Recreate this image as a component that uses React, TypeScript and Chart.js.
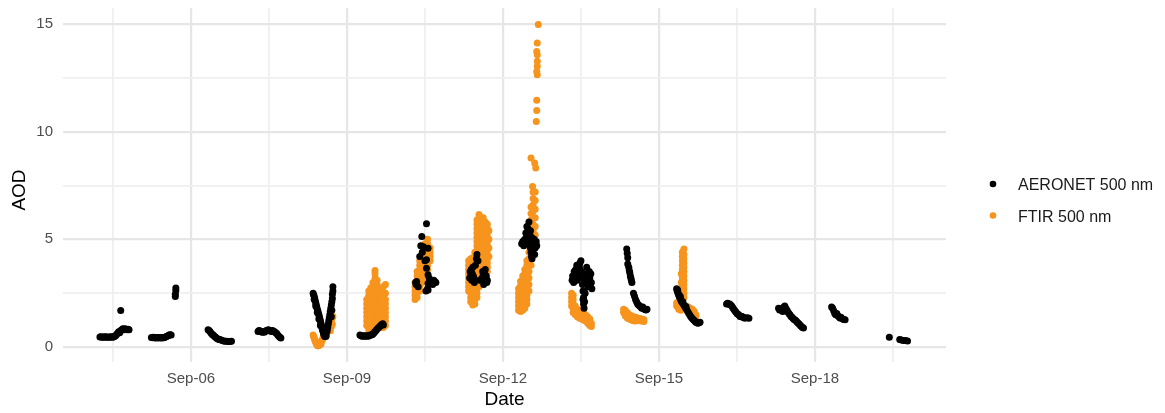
import React, { useEffect, useRef } from 'react';
import { Chart, registerables } from 'chart.js';

Chart.register(...registerables);

// ---- axis ticks ----
const xTickValues = [4.5, 6, 7.5, 9, 10.5, 12, 13.5, 15, 16.5, 18, 19.5];
const xTickLabels = ['', 'Sep-06', '', 'Sep-09', '', 'Sep-12', '', 'Sep-15', '', 'Sep-18', ''];
const yTickValues = [0, 2.5, 5, 7.5, 10, 12.5, 15];
const yTickLabels = ['0', '', '5', '', '10', '', '15'];

const seriesNames = ['AERONET 500 nm', 'FTIR 500 nm'];
const seriesColors = ['#000000', '#F7941D'];

// ---- AERONET 500 nm: [day of September, AOD] ----
const aeronetPoints: [number, number][] = [
  // Sep 4
  [4.25, 0.46], [4.27, 0.47], [4.29, 0.45], [4.31, 0.46], [4.33, 0.45], [4.35, 0.47], [4.37, 0.46], [4.39, 0.45],
  [4.41, 0.46], [4.43, 0.45], [4.45, 0.46], [4.47, 0.47], [4.49, 0.45], [4.51, 0.46], [4.53, 0.48], [4.55, 0.52],
  [4.57, 0.58], [4.59, 0.64], [4.61, 0.70], [4.63, 0.66], [4.65, 0.76], [4.67, 0.80], [4.69, 0.84], [4.71, 0.80],
  [4.73, 0.84], [4.75, 0.82], [4.77, 0.80], [4.79, 0.82], [4.81, 0.80], [4.65, 1.69],
  // Sep 5
  [5.24, 0.44], [5.26, 0.43], [5.28, 0.45], [5.30, 0.43], [5.32, 0.42], [5.34, 0.44], [5.36, 0.43], [5.38, 0.42],
  [5.40, 0.44], [5.42, 0.43], [5.44, 0.42], [5.46, 0.44], [5.48, 0.43], [5.50, 0.45], [5.52, 0.47], [5.54, 0.50],
  [5.56, 0.52], [5.58, 0.55], [5.60, 0.57], [5.62, 0.56], [5.70, 2.34], [5.70, 2.45], [5.71, 2.62], [5.71, 2.74],
  // Sep 6
  [6.33, 0.80], [6.35, 0.76], [6.37, 0.70], [6.39, 0.64], [6.41, 0.58], [6.43, 0.55], [6.45, 0.50], [6.47, 0.46],
  [6.49, 0.42], [6.51, 0.38], [6.53, 0.36], [6.55, 0.35], [6.57, 0.33], [6.60, 0.30], [6.63, 0.28], [6.66, 0.27],
  [6.69, 0.26], [6.72, 0.25], [6.75, 0.25], [6.78, 0.27],
  // Sep 7
  [7.29, 0.72], [7.31, 0.76], [7.33, 0.74], [7.35, 0.70], [7.37, 0.68], [7.39, 0.70], [7.41, 0.68], [7.43, 0.72],
  [7.45, 0.76], [7.47, 0.78], [7.49, 0.80], [7.51, 0.76], [7.53, 0.74], [7.55, 0.72], [7.57, 0.76], [7.59, 0.72],
  [7.61, 0.70], [7.63, 0.66], [7.65, 0.62], [7.67, 0.56], [7.69, 0.50], [7.71, 0.45], [7.73, 0.42],
  // Sep 8
  [8.35, 2.50], [8.36, 2.42], [8.37, 2.35], [8.37, 2.20], [8.38, 2.25], [8.39, 2.15], [8.40, 2.05], [8.40, 1.90],
  [8.41, 1.95], [8.42, 1.85], [8.43, 1.75], [8.43, 1.60], [8.44, 1.68], [8.45, 1.58], [8.46, 1.50], [8.46, 1.30],
  [8.47, 1.40], [8.48, 1.30], [8.49, 1.20], [8.49, 1.00], [8.50, 1.10], [8.51, 1.00], [8.52, 0.90], [8.53, 0.80],
  [8.54, 0.72], [8.55, 0.62], [8.56, 0.55], [8.57, 0.50], [8.58, 0.48], [8.60, 0.50], [8.60, 0.60], [8.62, 0.75],
  [8.63, 0.90], [8.64, 1.05], [8.65, 1.20], [8.66, 1.35], [8.67, 1.50], [8.68, 1.65], [8.69, 1.80], [8.70, 1.40],
  [8.70, 1.95], [8.71, 1.70], [8.71, 2.10], [8.72, 2.25], [8.72, 2.45], [8.73, 2.60], [8.73, 2.80],
  // Sep 9
  [9.25, 0.55], [9.27, 0.52], [9.29, 0.50], [9.31, 0.52], [9.33, 0.50], [9.35, 0.52], [9.37, 0.50], [9.39, 0.52],
  [9.41, 0.50], [9.43, 0.53], [9.45, 0.55], [9.47, 0.56], [9.49, 0.58], [9.51, 0.62], [9.53, 0.68], [9.55, 0.74],
  [9.57, 0.80], [9.59, 0.86], [9.61, 0.90], [9.63, 0.95], [9.65, 1.00], [9.67, 1.05], [9.69, 1.08], [9.70, 1.02],
  // Sep 10
  [10.32, 3.00], [10.33, 2.90], [10.34, 3.04], [10.37, 2.80], [10.40, 4.20], [10.42, 4.70], [10.44, 5.13],
  [10.45, 4.40], [10.47, 4.66], [10.50, 4.00], [10.52, 2.60], [10.53, 5.72], [10.53, 4.05], [10.53, 3.66],
  [10.55, 2.70], [10.56, 4.59], [10.56, 3.35], [10.56, 2.96], [10.56, 2.65], [10.58, 3.20], [10.60, 3.10],
  [10.65, 2.90], [10.67, 3.10], [10.69, 3.04], [10.71, 3.00],
  // Sep 11
  [11.36, 3.20], [11.37, 3.50], [11.38, 3.30], [11.39, 3.60], [11.40, 3.10], [11.41, 3.40], [11.42, 3.70],
  [11.43, 3.30], [11.44, 3.20], [11.45, 3.00], [11.47, 3.80], [11.49, 4.10], [11.50, 4.30], [11.52, 4.00],
  [11.55, 3.10], [11.60, 3.20], [11.61, 3.50], [11.62, 3.30], [11.63, 2.90], [11.64, 3.00], [11.65, 3.40],
  [11.66, 3.60], [11.67, 3.20], [11.68, 3.30], [11.69, 3.00], [11.70, 3.10],
  // Sep 12
  [12.36, 4.80], [12.38, 4.90], [12.40, 4.70], [12.42, 5.00], [12.44, 5.30], [12.46, 5.60], [12.47, 5.00],
  [12.48, 5.50], [12.49, 4.80], [12.50, 5.80], [12.51, 5.20], [12.52, 4.90], [12.53, 4.60], [12.53, 5.40],
  [12.54, 4.40], [12.55, 4.20], [12.55, 5.10], [12.56, 4.10], [12.57, 4.50], [12.57, 4.30], [12.58, 4.80],
  [12.59, 4.70], [12.60, 5.00], [12.61, 4.30], [12.62, 4.60], [12.63, 4.80], [12.64, 4.90], [12.65, 4.70],
  // Sep 13
  [13.33, 3.10], [13.34, 3.30], [13.36, 3.00], [13.37, 3.50], [13.38, 3.20], [13.40, 3.60], [13.41, 3.40],
  [13.42, 3.80], [13.43, 3.10], [13.44, 3.60], [13.46, 3.30], [13.47, 3.70], [13.48, 3.90], [13.50, 4.00],
  [13.51, 3.50], [13.52, 3.20], [13.53, 2.90], [13.54, 2.60], [13.54, 2.20], [13.55, 2.30], [13.55, 2.00],
  [13.56, 1.80], [13.56, 2.60], [13.57, 2.10], [13.58, 2.50], [13.59, 3.00], [13.60, 3.40], [13.61, 3.70],
  [13.62, 3.30], [13.63, 3.00], [13.64, 2.80], [13.65, 3.10], [13.66, 3.50], [13.67, 3.20], [13.68, 2.90],
  [13.69, 3.40], [13.70, 3.00], [13.71, 2.70],
  // Sep 14
  [14.38, 4.55], [14.39, 4.35], [14.40, 4.15], [14.40, 3.85], [14.42, 3.70], [14.43, 3.55], [14.44, 3.45],
  [14.45, 3.30], [14.46, 3.20], [14.47, 3.10], [14.48, 3.00], [14.51, 2.50], [14.53, 2.35], [14.55, 2.20],
  [14.57, 2.10], [14.59, 2.00], [14.61, 1.95], [14.63, 1.90], [14.65, 1.85], [14.67, 1.80], [14.69, 1.85],
  [14.71, 1.78], [14.73, 1.74], [14.75, 1.72], [14.77, 1.75],
  // Sep 15
  [15.34, 2.70], [15.35, 2.62], [15.36, 2.55], [15.36, 2.65], [15.37, 2.48], [15.38, 2.42], [15.39, 2.35],
  [15.40, 2.28], [15.41, 2.35], [15.42, 2.20], [15.43, 2.12], [15.45, 2.05], [15.46, 2.10], [15.47, 1.98],
  [15.49, 1.90], [15.51, 1.82], [15.52, 1.88], [15.53, 1.75], [15.55, 1.66], [15.57, 1.58], [15.59, 1.50],
  [15.61, 1.42], [15.63, 1.36], [15.65, 1.30], [15.67, 1.25], [15.69, 1.20], [15.71, 1.15], [15.73, 1.12],
  [15.75, 1.10], [15.77, 1.12], [15.79, 1.15],
  // Sep 16
  [16.30, 2.00], [16.32, 2.03], [16.34, 1.98], [16.36, 2.00], [16.38, 1.95], [16.40, 1.90], [16.42, 1.82],
  [16.44, 1.75], [16.46, 1.68], [16.48, 1.62], [16.50, 1.55], [16.52, 1.52], [16.54, 1.48], [16.56, 1.42],
  [16.58, 1.40], [16.60, 1.42], [16.62, 1.38], [16.64, 1.35], [16.66, 1.34], [16.70, 1.36], [16.73, 1.33],
  // Sep 17
  [17.30, 1.80], [17.32, 1.72], [17.34, 1.78], [17.36, 1.70], [17.38, 1.65], [17.40, 1.85], [17.42, 1.90],
  [17.44, 1.80], [17.46, 1.72], [17.48, 1.62], [17.50, 1.55], [17.52, 1.50], [17.54, 1.42], [17.56, 1.38],
  [17.58, 1.32], [17.60, 1.28], [17.62, 1.25], [17.64, 1.20], [17.66, 1.15], [17.68, 1.10], [17.70, 1.05],
  [17.72, 1.00], [17.74, 0.95], [17.76, 0.90], [17.78, 0.88],
  // Sep 18
  [18.32, 1.85], [18.34, 1.80], [18.36, 1.68], [18.38, 1.55], [18.40, 1.50], [18.42, 1.55], [18.44, 1.45],
  [18.46, 1.40], [18.48, 1.35], [18.50, 1.38], [18.52, 1.32], [18.55, 1.28], [18.58, 1.26],
  // Sep 19
  [19.43, 0.45], [19.63, 0.35], [19.66, 0.32], [19.70, 0.30], [19.74, 0.30], [19.78, 0.28],
];

// ---- FTIR 500 nm: [day of September, AOD values observed at that time] ----
const ftirColumns: [number, number[]][] = [
  // Sep 8
  [8.35, [0.55]], [8.36, [0.48]], [8.37, [0.42]], [8.38, [0.35]], [8.39, [0.28]], [8.40, [0.22]], [8.41, [0.16]],
  [8.42, [0.12]], [8.43, [0.08]], [8.44, [0.06, 0.15]], [8.45, [0.05]], [8.46, [0.08]], [8.47, [0.10, 0.20]],
  [8.48, [0.14]], [8.49, [0.18]], [8.50, [0.12, 0.22]], [8.51, [0.26]], [8.52, [0.30]], [8.53, [0.35]],
  [8.54, [0.40]], [8.55, [0.44]], [8.56, [0.48]], [8.57, [0.52]], [8.58, [0.56]], [8.60, [0.62]], [8.62, [0.70]],
  [8.64, [0.80]], [8.66, [0.90]], [8.67, [1.00]], [8.68, [0.75, 1.10]], [8.69, [1.18]], [8.70, [0.95, 1.25]],
  [8.71, [1.32]], [8.72, [1.05, 1.38]], [8.73, [1.42]],
  // Sep 9
  [9.38, [1.0, 1.2, 1.4, 1.6, 1.8, 2.0, 2.2]],
  [9.42, [0.8, 1.0, 1.2, 1.4, 1.6, 1.8, 2.0, 2.2, 2.4, 2.6]],
  [9.46, [0.75, 0.95, 1.15, 1.35, 1.55, 1.75, 1.95, 2.15, 2.35, 2.55, 2.75]],
  [9.50, [0.8, 1.0, 1.2, 1.4, 1.6, 1.8, 2.0, 2.2, 2.4, 2.6, 2.8, 3.0]],
  [9.54, [1.0, 1.2, 1.4, 1.6, 1.8, 2.0, 2.2, 2.4, 2.6, 2.8, 3.0, 3.2, 3.4, 3.55]],
  [9.58, [1.1, 1.3, 1.5, 1.7, 1.9, 2.1, 2.3, 2.5, 2.7, 2.9, 3.1]],
  [9.62, [1.0, 1.2, 1.4, 1.6, 1.8, 2.0, 2.2, 2.4, 2.6]],
  [9.66, [0.9, 1.1, 1.3, 1.5, 1.7, 1.9, 2.1, 2.3, 2.5, 2.7]],
  [9.70, [0.9, 1.1, 1.3, 1.5, 1.7, 1.9, 2.1, 2.3, 2.5, 2.8]],
  [9.74, [1.0, 1.2, 1.4, 1.6, 1.8, 2.0, 2.2, 2.5, 2.9]],
  // Sep 10
  [10.31, [2.2, 2.4, 2.6, 2.8, 3.0]],
  [10.35, [2.3, 2.5, 2.7, 2.9, 3.1, 3.3, 3.5]],
  [10.40, [2.6, 2.8, 3.0, 3.2, 3.4, 3.6, 3.8, 4.0]],
  [10.45, [3.0, 3.2, 3.4, 3.6, 3.8, 4.0, 4.2, 4.4]],
  [10.50, [3.4, 3.6, 3.8, 4.0, 4.2, 4.4, 4.6, 4.8]],
  [10.55, [3.6, 3.8, 4.0, 4.2, 4.4, 4.6, 4.8, 5.0]],
  [10.60, [4.0, 4.2, 4.4, 4.6]],
  // Sep 11
  [11.34, [2.6, 2.8, 3.0, 3.2, 3.4, 3.6, 3.8, 4.0]],
  [11.38, [2.1, 2.3, 2.5, 2.7, 2.9, 3.1, 3.3, 3.5, 3.7, 3.9, 4.1]],
  [11.42, [1.95, 2.15, 2.35, 2.55, 2.75, 2.95, 3.15, 3.35, 3.55, 3.75, 3.95, 4.15]],
  [11.46, [2.0, 2.2, 2.4, 2.6, 2.8, 3.0, 3.2, 3.4, 3.6, 3.8, 4.0, 4.2, 4.4]],
  [11.50, [2.3, 2.5, 2.7, 2.9, 3.1, 3.3, 3.5, 3.7, 3.9, 4.1, 4.3, 4.5, 4.7, 4.9, 5.1, 5.3, 5.5, 5.7, 5.9]],
  [11.54, [2.8, 3.0, 3.2, 3.4, 3.6, 3.8, 4.0, 4.2, 4.4, 4.6, 4.8, 5.0, 5.2, 5.4, 5.6, 5.8, 6.0, 6.15]],
  [11.58, [3.0, 3.2, 3.4, 3.6, 3.8, 4.0, 4.2, 4.4, 4.6, 4.8, 5.0, 5.2, 5.4, 5.6, 5.8, 6.0]],
  [11.62, [3.2, 3.4, 3.6, 3.8, 4.0, 4.2, 4.4, 4.6, 4.8, 5.0, 5.2, 5.4, 5.6, 5.8, 6.0]],
  [11.66, [3.4, 3.6, 3.8, 4.0, 4.2, 4.4, 4.6, 4.8, 5.0, 5.2, 5.4, 5.6, 5.8]],
  [11.70, [3.5, 3.7, 3.9, 4.1, 4.3, 4.5, 4.7, 4.9, 5.1, 5.3, 5.5, 5.7]],
  [11.73, [4.2, 4.6, 5.0, 5.4]],
  // Sep 12
  [12.30, [1.7, 1.9, 2.1, 2.3, 2.5, 2.7]],
  [12.34, [1.65, 1.85, 2.05, 2.25, 2.45, 2.65, 2.85, 3.05]],
  [12.38, [1.7, 1.9, 2.1, 2.3, 2.5, 2.7, 2.9, 3.1, 3.3]],
  [12.42, [1.8, 2.0, 2.2, 2.4, 2.6, 2.8, 3.0, 3.2, 3.4, 3.6]],
  [12.46, [2.0, 2.2, 2.4, 2.6, 2.8, 3.0, 3.2, 3.4, 3.6, 3.8, 4.0]],
  [12.50, [2.6, 2.9, 3.2, 3.5, 3.8, 4.1, 4.4, 4.7, 5.0, 5.3]],
  [12.54, [3.8, 4.1, 4.4, 4.7, 5.0, 5.3, 5.6, 5.9, 6.2, 6.5, 8.78]],
  [12.57, [7.46]],
  [12.58, [4.5, 4.8, 5.1, 5.4, 5.7, 6.0, 6.3, 6.6, 6.9, 7.2]],
  [12.61, [8.55]],
  [12.62, [5.2, 5.6, 6.0, 6.4, 6.8, 7.2]],
  [12.63, [8.32]],
  [12.64, [10.48]],
  [12.65, [10.99, 11.46, 12.80, 13.73]],
  [12.66, [12.65, 13.04, 13.27, 13.58, 14.12]],
  [12.68, [14.98]],
  // Sep 13
  [13.32, [2.5, 2.3, 2.1, 1.9]],
  [13.35, [2.4, 2.2, 2.0, 1.8, 1.6]],
  [13.39, [1.9, 1.7, 1.5]],
  [13.43, [1.75, 1.55, 1.4]],
  [13.47, [1.7, 1.5, 1.35]],
  [13.51, [1.6, 1.45, 1.3]],
  [13.55, [1.55, 1.4, 1.25]],
  [13.59, [1.5, 1.35, 1.2]],
  [13.63, [1.4, 1.25, 1.1]],
  [13.67, [1.3, 1.15, 1.0]],
  [13.70, [1.1, 0.95]],
  // Sep 14
  [14.32, [1.75, 1.6]],
  [14.35, [1.7, 1.55, 1.45]],
  [14.39, [1.6, 1.45, 1.35]],
  [14.43, [1.5, 1.4, 1.3]],
  [14.47, [1.45, 1.35, 1.25]],
  [14.51, [1.4, 1.3, 1.22]],
  [14.55, [1.38, 1.28, 1.2]],
  [14.59, [1.35, 1.25]],
  [14.63, [1.32, 1.22]],
  [14.67, [1.3, 1.2]],
  [14.71, [1.28, 1.18]],
  // Sep 15
  [15.34, [2.05, 1.9]],
  [15.38, [2.0, 1.85, 1.75]],
  [15.42, [1.95, 1.8, 1.7]],
  [15.43, [2.6, 3.0, 3.4]],
  [15.45, [2.2, 2.4, 2.6, 2.8, 3.0, 3.2, 3.4, 3.6, 3.8, 4.0, 4.2, 4.4]],
  [15.48, [2.3, 2.5, 2.7, 2.9, 3.1, 3.3, 3.5, 3.7, 3.9, 4.1, 4.3, 4.55]],
  [15.52, [1.9, 1.75]],
  [15.56, [1.85, 1.7]],
  [15.60, [1.8, 1.65]],
  [15.64, [1.75, 1.6]],
  [15.68, [1.65, 1.5]],
  [15.71, [1.5, 1.4]],
];

const FONT = '"Liberation Sans", Arial, Helvetica, sans-serif';

export default function App() {
  const canvasRef = useRef<HTMLCanvasElement>(null);

  useEffect(() => {
    const canvas = canvasRef.current;
    if (!canvas) return;

    const aeronetData = aeronetPoints.map(([x, y]) => ({ x, y }));
    const ftirData = ftirColumns.flatMap(([x, ys]) => ys.map((y) => ({ x, y })));

    const xLabelOf = (v: number) => {
      const i = xTickValues.indexOf(v);
      return i >= 0 ? xTickLabels[i] : '';
    };
    const yLabelOf = (v: number) => {
      const i = yTickValues.indexOf(v);
      return i >= 0 ? yTickLabels[i] : '';
    };

    const overlay = {
      id: 'overlay',
      afterDraw(chart: any) {
        const ctx = chart.ctx as CanvasRenderingContext2D;
        const area = chart.chartArea;
        ctx.save();
        ctx.fillStyle = '#000000';
        ctx.font = `19px ${FONT}`;
        ctx.textAlign = 'center';
        ctx.textBaseline = 'middle';
        ctx.fillText('Date', (area.left + area.right) / 2, 400);
        ctx.save();
        ctx.translate(20, 190);
        ctx.rotate(-Math.PI / 2);
        ctx.fillText('AOD', 0, 0);
        ctx.restore();

        // legend
        ctx.font = `16px ${FONT}`;
        ctx.textAlign = 'left';
        seriesNames.forEach((name, i) => {
          const cy = 184 + i * 31.5;
          ctx.beginPath();
          ctx.fillStyle = seriesColors[i];
          ctx.arc(993, cy, 3.3, 0, Math.PI * 2);
          ctx.fill();
          ctx.fillStyle = '#1a1a1a';
          ctx.fillText(name, 1018, cy + 2);
        });
        ctx.restore();
      },
    };

    const majorColor = '#e6e6e6';
    const minorColor = '#efefef';

    const chart = new Chart(canvas, {
      type: 'scatter',
      data: {
        datasets: [
          {
            label: seriesNames[0],
            data: aeronetData,
            backgroundColor: seriesColors[0],
            borderWidth: 0,
            pointRadius: 3.5,
            pointHoverRadius: 3.5,
          },
          {
            label: seriesNames[1],
            data: ftirData,
            backgroundColor: seriesColors[1],
            borderWidth: 0,
            pointRadius: 3.5,
            pointHoverRadius: 3.5,
          },
        ],
      },
      options: {
        responsive: false,
        animation: false,
        devicePixelRatio: 1,
        layout: { padding: { top: 8, right: 219, left: 0, bottom: 0 } },
        plugins: {
          legend: { display: false },
          tooltip: { enabled: false },
          title: { display: false },
        },
        scales: {
          x: {
            type: 'linear',
            min: 3.54,
            max: 20.52,
            afterBuildTicks: (scale: any) => {
              scale.ticks = xTickValues.map((v) => ({ value: v }));
            },
            afterFit: (scale: any) => {
              scale.height = 51;
              scale.paddingLeft = 0;
              scale.paddingRight = 0;
            },
            border: { display: false },
            grid: {
              drawTicks: false,
              color: (c: any) => (c.tick && xLabelOf(c.tick.value) ? majorColor : minorColor),
              lineWidth: (c: any) => (c.tick && xLabelOf(c.tick.value) ? 2.2 : 1.8),
            },
            ticks: {
              autoSkip: false,
              maxRotation: 0,
              minRotation: 0,
              padding: 8,
              color: '#4d4d4d',
              font: { family: FONT, size: 15 },
              callback: (v: any) => xLabelOf(Number(v)),
            },
          },
          y: {
            type: 'linear',
            min: -0.7,
            max: 15.75,
            afterBuildTicks: (scale: any) => {
              scale.ticks = yTickValues.map((v) => ({ value: v }));
            },
            afterFit: (scale: any) => {
              scale.width = 63;
              scale.paddingTop = 0;
              scale.paddingBottom = 0;
            },
            border: { display: false },
            grid: {
              drawTicks: false,
              color: (c: any) => (c.tick && yLabelOf(c.tick.value) ? majorColor : minorColor),
              lineWidth: (c: any) => (c.tick && yLabelOf(c.tick.value) ? 2.2 : 1.8),
            },
            ticks: {
              autoSkip: false,
              padding: 10,
              color: '#4d4d4d',
              font: { family: FONT, size: 15 },
              callback: (v: any) => yLabelOf(Number(v)),
            },
          },
        },
      },
      plugins: [overlay],
    });

    return () => chart.destroy();
  }, []);

  return (
    <div style={{ position: 'fixed', left: 0, top: 0, width: 1165, height: 413, background: '#ffffff' }}>
      <canvas ref={canvasRef} width={1165} height={413} style={{ display: 'block', width: 1165, height: 413 }} />
    </div>
  );
}
